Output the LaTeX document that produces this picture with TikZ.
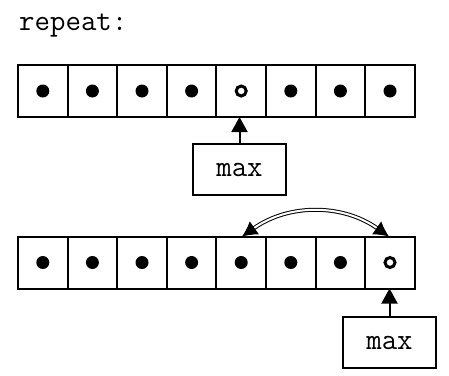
\documentclass[tikz,border=0pt]{standalone}
\usetikzlibrary{arrows.meta}
\begin{document}
\begin{tikzpicture}[x=1pt,y=-1pt,
  codefont/.style={font=\ttfamily\fontsize{30}{32}\selectfont},
  cellbox/.style={draw,line width=2pt,minimum width=49.6pt,minimum height=52pt,inner sep=0pt,outer sep=0pt},
  ptrbox/.style={draw,line width=2pt,minimum width=93pt,minimum height=51pt,inner sep=0pt,codefont},
  full/.style={fill=black,circle,inner sep=0pt,minimum size=13pt},
  empty/.style={draw,line width=3pt,circle,inner sep=0pt,minimum size=10pt},
  ptr/.style={line width=2pt,-{Triangle[length=15pt,width=16pt]}},
  swap/.style={double,double distance=2pt,line width=1pt,{Latex[length=15pt,width=16pt]}-{Latex[length=15pt,width=16pt]}}
]
\useasboundingbox (0,0) rectangle (449,375);

\node[anchor=base west,codefont,inner sep=0pt] (title) at (19,30) {repeat:};

% first array: maximum sits at position 5
\foreach \i in {1,...,8}{
  \node[cellbox] (a\i) at ({18+49.6*(\i-0.5)},91) {};
}
\foreach \i in {1,2,3,4,6,7,8}{ \node[full] (da\i) at (a\i) {}; }
\node[empty] (da5) at (a5) {};
\node[ptrbox] (m1) at (239.5,169.5) {max};
\draw[ptr] (m1.north) -- (m1.north |- a5.south);

% second array: maximum moved to the end
\foreach \i in {1,...,8}{
  \node[cellbox] (b\i) at ({18+49.6*(\i-0.5)},262.5) {};
}
\foreach \i in {1,...,7}{ \node[full] (db\i) at (b\i) {}; }
\node[empty] (db8) at (b8) {};
\node[ptrbox] (m2) at (389.5,342.5) {max};
\draw[ptr] (m2.north) -- (m2.north |- b8.south);

\coordinate (s1) at (242,236.5);
\coordinate (s2) at (389,236.5);
\draw[swap] (s1) to[bend left=35] (s2);
\end{tikzpicture}
\end{document}
